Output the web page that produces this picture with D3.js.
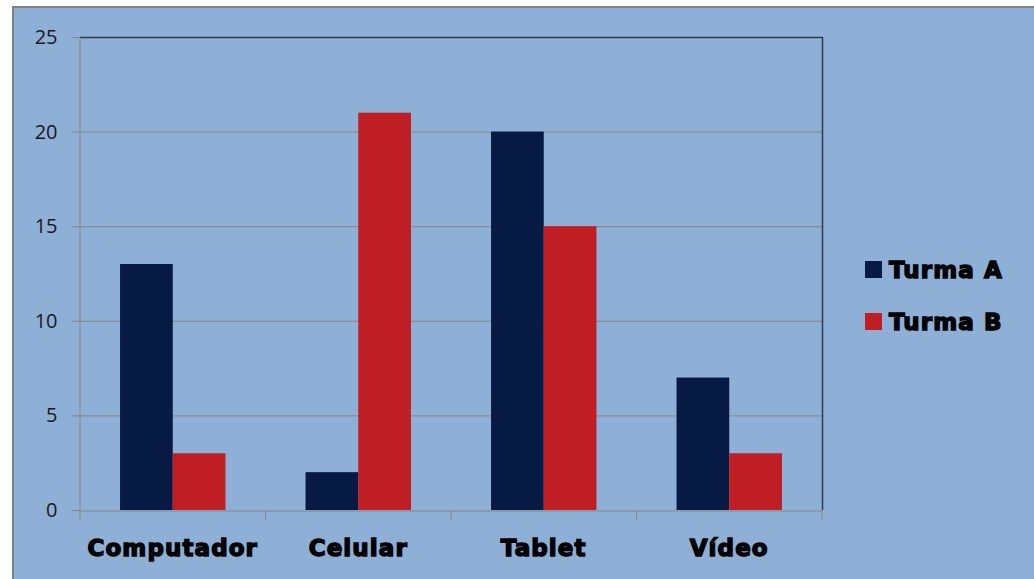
<!DOCTYPE html>
<html>
<head>
<meta charset="utf-8">
<script src="https://cdn.jsdelivr.net/npm/d3@7"></script>
<style>
  body { margin: 0; background: #fff; }
  svg { display: block; }
</style>
</head>
<body>
<svg width="1034" height="579"></svg>
<script>
// data
var categories = ["Computador", "Celular", "Tablet", "Vídeo"];
var seriesNames = ["Turma A", "Turma B"];
var turmaA = [13, 2, 20, 7];
var turmaB = [3, 21, 15, 3];
var yTicks = [0, 5, 10, 15, 20, 25];

var colors = ["#061a43", "#be1e24"];

var svg = d3.select("svg"),
    plotLeft = 80, plotRight = 822, plotTop = 37, plotBottom = 510;

// chart background frame
svg.append("rect")
    .attr("x", 13).attr("y", 7)
    .attr("width", 1034).attr("height", 600)
    .attr("fill", "#8eb0d6")
    .attr("stroke", "#808080").attr("stroke-width", 2);

var x = d3.scaleBand().domain(categories).range([plotLeft, plotRight]);
var xs = d3.scaleBand().domain(seriesNames).range([0, x.bandwidth()]).paddingOuter(0.76).paddingInner(0);
var y = d3.scaleLinear().domain([0, 25]).range([plotBottom, plotTop]);

// gridlines
svg.append("g").selectAll("line")
    .data(yTicks.slice(1, -1))
    .enter().append("line")
    .attr("x1", plotLeft).attr("x2", plotRight)
    .attr("y1", function (d) { return y(d) + 0.5; })
    .attr("y2", function (d) { return y(d) + 0.5; })
    .attr("stroke", "#868686").attr("stroke-width", 1);

// plot border top / right
svg.append("path")
    .attr("d", "M" + plotLeft + "," + (plotTop + 0.5) + "H" + (plotRight + 0.5) + "V" + plotBottom)
    .attr("fill", "none").attr("stroke", "#2b3a4f").attr("stroke-width", 1.5);

// bars
var data = categories.map(function (c, i) { return { cat: c, vals: [turmaA[i], turmaB[i]] }; });
var groups = svg.append("g").selectAll("g")
    .data(data).enter().append("g")
    .attr("transform", function (d) { return "translate(" + x(d.cat) + ",0)"; });
groups.selectAll("rect")
    .data(function (d) { return d.vals.map(function (v, j) { return { s: seriesNames[j], v: v, j: j }; }); })
    .enter().append("rect")
    .attr("x", function (d) { return xs(d.s); })
    .attr("width", xs.bandwidth())
    .attr("y", function (d) { return y(d.v); })
    .attr("height", function (d) { return y(0) - y(d.v); })
    .attr("fill", function (d) { return colors[d.j]; });

// y axis
var yAxis = svg.append("g")
    .attr("transform", "translate(" + (plotLeft - 0.5) + ",0)")
    .call(d3.axisLeft(y).tickValues(yTicks).tickSize(8).tickSizeOuter(0).tickPadding(14));
yAxis.select(".domain").attr("stroke", "#868686");
yAxis.selectAll(".tick line").attr("stroke", "#868686");
yAxis.selectAll("text")
    .attr("font-family", "'Open Sans', 'Liberation Sans', sans-serif")
    .attr("font-size", 20).attr("fill", "#1a1a1a");

// x axis
var xAxis = svg.append("g")
    .attr("transform", "translate(0," + (plotBottom + 0.5) + ")")
    .call(d3.axisBottom(x).tickSize(0).tickPadding(29));
xAxis.select(".domain").attr("stroke", "#868686");
xAxis.selectAll("text")
    .attr("font-family", "'DejaVu Sans', sans-serif")
    .attr("font-weight", "bold")
    .attr("font-size", 23)
    .attr("letter-spacing", 1.1)
    .attr("fill", "#000")
    .attr("stroke", "#000").attr("stroke-width", 1.4);
xAxis.selectAll(".sep")
    .data(d3.range(categories.length + 1))
    .enter().append("line")
    .attr("x1", function (i) { return plotLeft + i * x.step(); })
    .attr("x2", function (i) { return plotLeft + i * x.step(); })
    .attr("y1", 0).attr("y2", 9)
    .attr("stroke", "#868686");

// legend
var legend = svg.append("g").selectAll("g")
    .data(seriesNames).enter().append("g")
    .attr("transform", function (d, i) { return "translate(865," + (261 + i * 52) + ")"; });
legend.append("rect")
    .attr("width", 17).attr("height", 17)
    .attr("fill", function (d, i) { return colors[i]; });
legend.append("text")
    .attr("x", 24).attr("y", 17)
    .attr("font-family", "'DejaVu Sans', sans-serif")
    .attr("font-weight", "bold")
    .attr("font-size", 23)
    .attr("letter-spacing", 1.1)
    .attr("stroke", "#000").attr("stroke-width", 1.4)
    .text(function (d) { return d; });
</script>
</body>
</html>
